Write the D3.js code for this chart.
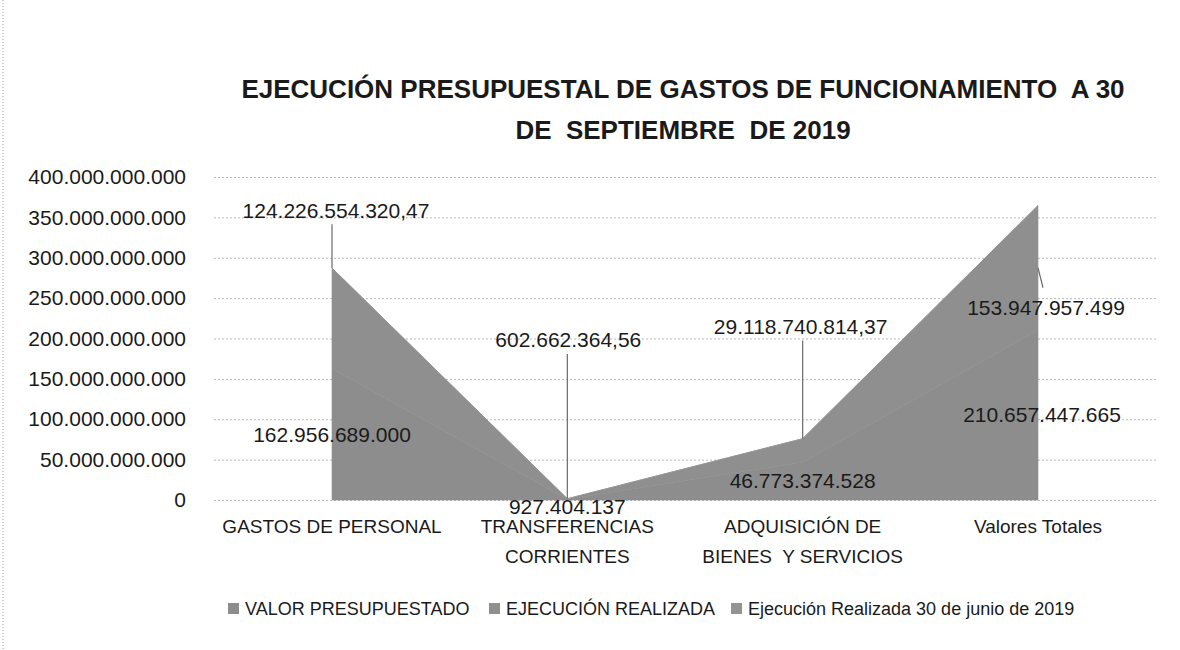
<!DOCTYPE html>
<html>
<head>
<meta charset="utf-8">
<script src="https://cdn.jsdelivr.net/npm/d3@7/dist/d3.min.js"></script>
<style>
  html, body { margin: 0; padding: 0; background: #fff; }
  svg { display: block; }
  text { font-family: "Liberation Sans", Arial, sans-serif; fill: #1a1a1a; }
</style>
</head>
<body>
<svg id="chart" width="1180" height="650"></svg>
<script>
// ---- data ----
const categories = [["GASTOS DE PERSONAL"], ["TRANSFERENCIAS", "CORRIENTES"], ["ADQUISICIÓN DE", "BIENES  Y SERVICIOS"], ["Valores Totales"]];
const seriesNames = ["VALOR PRESUPUESTADO", "EJECUCIÓN REALIZADA", "Ejecución Realizada 30 de junio de 2019"];
const valorPresupuestado = [162956689000, 927404137, 46773374528, 210657447665];
const ejecucionRealizada = [124226554320.47, 602662364.56, 29118740814.37, 153947957499];
const ejecucionJunio = [null, null, null, null];
const yTicks = [0, 50e9, 100e9, 150e9, 200e9, 250e9, 300e9, 350e9, 400e9];
const titleLines = ["EJECUCIÓN PRESUPUESTAL DE GASTOS DE FUNCIONAMIENTO  A 30", "DE  SEPTIEMBRE  DE 2019"];

const svg = d3.select("#chart");
const W = 1180, H = 650;
const colors = ["#8d8d8d", "#8f8f8f", "#939393"];

const locale = d3.formatLocale({ decimal: ",", thousands: ".", grouping: [3], currency: ["$", ""] });
const fmtInt = locale.format(",.0f");
const fmtDec = locale.format(",.2f");
const fmtVal = v => Number.isInteger(v) ? fmtInt(v) : fmtDec(v);

// scan border decoration
svg.append("line").attr("x1", 3).attr("x2", 3).attr("y1", 0).attr("y2", H)
  .attr("stroke", "#9a9a9a").attr("stroke-width", 1).attr("stroke-dasharray", "1,2");

// title
const title = svg.append("g");
titleLines.forEach((t, i) => {
  title.append("text").attr("x", 683).attr("y", 98 + i * 41)
    .attr("text-anchor", "middle").style("white-space", "pre")
    .attr("font-weight", "bold").attr("font-size", 26).attr("fill", "#222").text(t);
});

// scales
const keys = categories.map(c => c.join(" "));
const x = d3.scalePoint().domain(keys).range([332, 1038]);
const y = d3.scaleLinear().domain([0, 400e9]).range([500, 177]);
const plotLeft = 214, plotRight = 1157;

// gridlines
svg.append("g").selectAll("line").data(yTicks).join("line")
  .attr("x1", plotLeft).attr("x2", plotRight)
  .attr("y1", d => y(d) + 0.5).attr("y2", d => y(d) + 0.5)
  .attr("stroke", "#b8b8b8").attr("stroke-width", 1).attr("stroke-dasharray", "2,2");

// y axis labels
const yAxis = d3.axisLeft(y).tickValues(yTicks).tickFormat(d => fmtInt(d)).tickSize(0).tickPadding(0);
const yg = svg.append("g").attr("transform", "translate(186,0)").call(yAxis);
yg.select(".domain").remove();
yg.selectAll("text").attr("font-size", 21).attr("fill", "#222")
  .style("font-family", "'Liberation Sans', Arial, sans-serif");

// stacked areas
const rows = keys.map((k, i) => ({ key: k, s0: valorPresupuestado[i], s1: ejecucionRealizada[i], s2: ejecucionJunio[i] }));
const stack = d3.stack().keys(["s0", "s1", "s2"]).value((d, k) => d[k] == null ? 0 : d[k]);
const stacked = stack(rows);
const area = d3.area().x(d => x(d.data.key)).y0(d => y(d[0])).y1(d => y(d[1]));
svg.append("g").selectAll("path").data(stacked).join("path")
  .attr("d", area).attr("fill", (d, i) => colors[i])
  .attr("stroke", (d, i) => colors[i]).attr("stroke-width", 0.6);

// data labels (default position: centre of each band; some moved by hand with leader lines)
const labelOffsets = {
  s0: [[0, 0], [0, 7], [0, 0], [4, 0]],
  s1: [[4, -108], [1, -159], [-2, -124], [8, 40]]
};
const labelsG = svg.append("g");
stacked.slice(0, 2).forEach(layer => {
  layer.forEach((d, i) => {
    const v = d.data[layer.key];
    if (v == null) return;
    const off = labelOffsets[layer.key][i];
    const cx = x(d.data.key), cy = y((d[0] + d[1]) / 2);
    const lx = cx + off[0], ly = cy + off[1];
    if (layer.key === "s1") {
      if (i < 3) {
        labelsG.append("line").attr("x1", cx).attr("x2", cx)
          .attr("y1", ly + 14).attr("y2", y(d[1]))
          .attr("stroke", "#6a6a6a").attr("stroke-width", 1.2);
      } else {
        labelsG.append("line").attr("x1", cx).attr("x2", cx + 5)
          .attr("y1", ly - 40).attr("y2", ly - 20)
          .attr("stroke", "#6a6a6a").attr("stroke-width", 1.2);
      }
    }
    labelsG.append("text").attr("x", lx).attr("y", ly)
      .attr("dy", "0.35em").attr("text-anchor", "middle")
      .attr("font-size", 21).attr("fill", "#1e1e1e").text(fmtVal(v));
  });
});

// x axis labels
const xg = svg.append("g");
categories.forEach((lines, i) => {
  lines.forEach((t, j) => {
    xg.append("text").attr("x", x(keys[i])).attr("y", 533 + j * 30)
      .attr("text-anchor", "middle").style("white-space", "pre")
      .attr("font-size", 19).attr("fill", "#222").text(t);
  });
});

// legend
const legendX = [228, 489, 731];
const lg = svg.append("g");
seriesNames.forEach((n, i) => {
  lg.append("rect").attr("x", legendX[i]).attr("y", 603).attr("width", 11).attr("height", 11)
    .attr("fill", colors[i]);
  lg.append("text").attr("x", legendX[i] + 17).attr("y", 615)
    .attr("font-size", 18).attr("fill", "#222").text(n);
});
</script>
</body>
</html>
